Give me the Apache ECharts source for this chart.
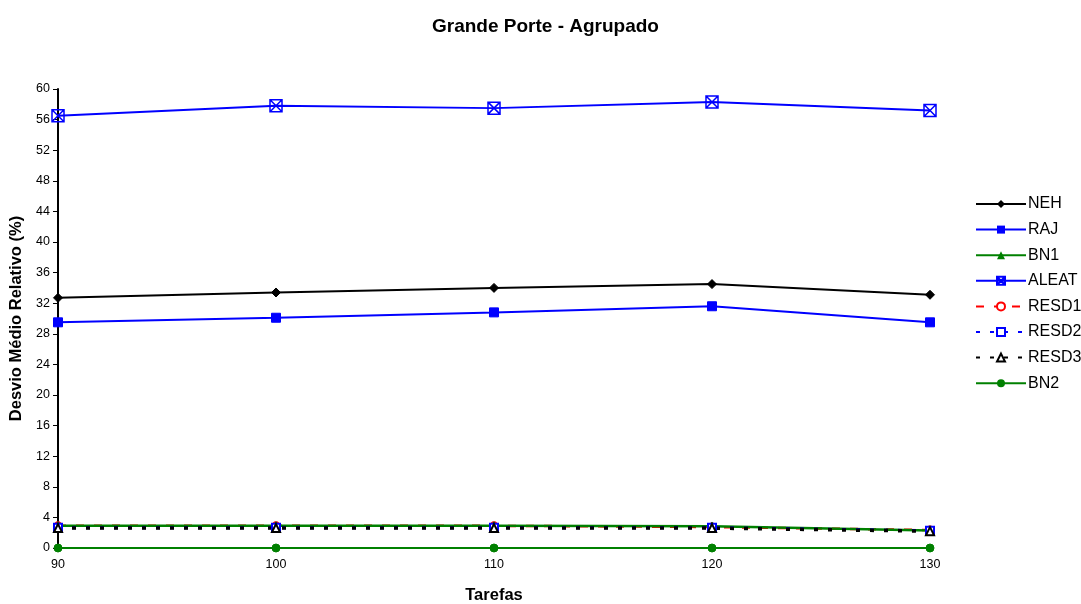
<!DOCTYPE html>
<html><head><meta charset="utf-8">
<script src="https://cdn.jsdelivr.net/npm/echarts@6/dist/echarts.min.js"></script>
<style>html,body{margin:0;padding:0;background:#fff}#c{width:1081px;height:604px}</style>
</head><body><div id="c"></div>
<script>
const tarefas = [90, 100, 110, 120, 130];
const NEH   = [32.7, 33.4, 34.0, 34.5, 33.1];
const RAJ   = [29.5, 30.1, 30.8, 31.6, 29.5];
const BN1   = [2.9, 2.9, 2.9, 2.85, 2.3];
const ALEAT = [56.5, 57.8, 57.5, 58.3, 57.2];
const RESD1 = [2.9, 2.9, 2.9, 2.75, 2.35];
const RESD2 = [2.65, 2.65, 2.65, 2.65, 2.25];
const RESD3 = [2.6, 2.6, 2.6, 2.6, 2.2];
const BN2   = [0, 0, 0, 0, 0];
const yTicks = [0,4,8,12,16,20,24,28,32,36,40,44,48,52,56,60];

const pairs = arr => tarefas.map((t,i)=>[t, arr[i]]);
const font = 'Liberation Sans, Arial, sans-serif';
const aleatSym = 'path://M0,0H10V10H0Z M0,0L10,10 M10,0L0,10';

function s(name, data, color, symbol, size, lineType, extra) {
  return Object.assign({
    name, type:'line', data: pairs(data), symbol, symbolSize:size,
    showSymbol:true,
    lineStyle:{color, width:2, type: lineType||'solid'},
    itemStyle:{color, borderColor:color},
    emphasis:{disabled:true}, animation:false
  }, extra||{});
}

const chart = echarts.init(document.getElementById('c'));
chart.setOption({
  animation:false,
  backgroundColor:'#fff',
  title:{text:'Grande Porte - Agrupado', left:427, top:12,
    textStyle:{fontFamily:font, fontSize:19, fontWeight:'bold', color:'#000'}},
  grid:{left:58, right:151, top:89, bottom:56, containLabel:false, outerBoundsMode:'none'},
  legend:{orient:'vertical', left:970, top:191, itemWidth:50, itemHeight:10, itemGap:9.6,
    textStyle:{fontFamily:font, fontSize:16, color:'#000', padding:[0,0,0,-3]},
    data:['NEH','RAJ','BN1','ALEAT','RESD1','RESD2','RESD3','BN2']},
  xAxis:{type:'value', min:90, max:130, interval:10, name:'Tarefas', nameLocation:'middle', nameGap:39,
    nameTextStyle:{fontFamily:font, fontSize:16.5, fontWeight:'bold', color:'#000'},
    axisLine:{show:true, lineStyle:{color:'#000', width:1}},
    axisTick:{show:true, length:4, lineStyle:{color:'#000'}},
    axisLabel:{fontFamily:font, fontSize:12.5, color:'#000', margin:10},
    splitLine:{show:false}},
  yAxis:{type:'value', min:0, max:60, interval:4, name:'Desvio Médio Relativo (%)', nameLocation:'middle', nameGap:25,
    nameTextStyle:{fontFamily:font, fontSize:16.5, fontWeight:'bold', color:'#000'},
    axisLine:{show:true, lineStyle:{color:'#000', width:2}},
    axisTick:{show:true, length:5, lineStyle:{color:'#000'}},
    axisLabel:{fontFamily:font, fontSize:12.5, color:'#000', margin:8,
      formatter: v => yTicks.includes(v) ? String(v) : ''},
    splitLine:{show:false}},
  series:[
    s('NEH', NEH, '#000', 'diamond', 9),
    s('RAJ', RAJ, '#0000ff', 'rect', 9),
    s('RESD1', RESD1, '#ff0000', 'emptyCircle', 7, [8,10], {lineStyle:{color:'#ff0000', width:2.5, type:[8,10]}, itemStyle:{color:'#ff0000', borderWidth:1.5}}),
    s('BN1', BN1, '#008000', 'triangle', 8, 'solid', {lineStyle:{color:'#008000', width:2.5}}),
    s('ALEAT', ALEAT, '#0000ff', aleatSym, 12, 'solid', {itemStyle:{color:'rgba(0,0,0,0)', borderColor:'#0000ff', borderWidth:1.5}}),
    s('RESD2', RESD2, '#0000ff', 'emptyRect', 8, [4,10], {lineStyle:{color:'#0000ff', width:3, type:[4,10]}, itemStyle:{color:'#0000ff', borderWidth:2}}),
    s('RESD3', RESD3, '#000', 'emptyTriangle', 8, [4,10], {lineStyle:{color:'#000', width:3.5, type:[4,10]}, itemStyle:{color:'#000', borderWidth:1.5}}),
    s('BN2', BN2, '#008000', 'circle', 8)
  ]
});
</script></body></html>
